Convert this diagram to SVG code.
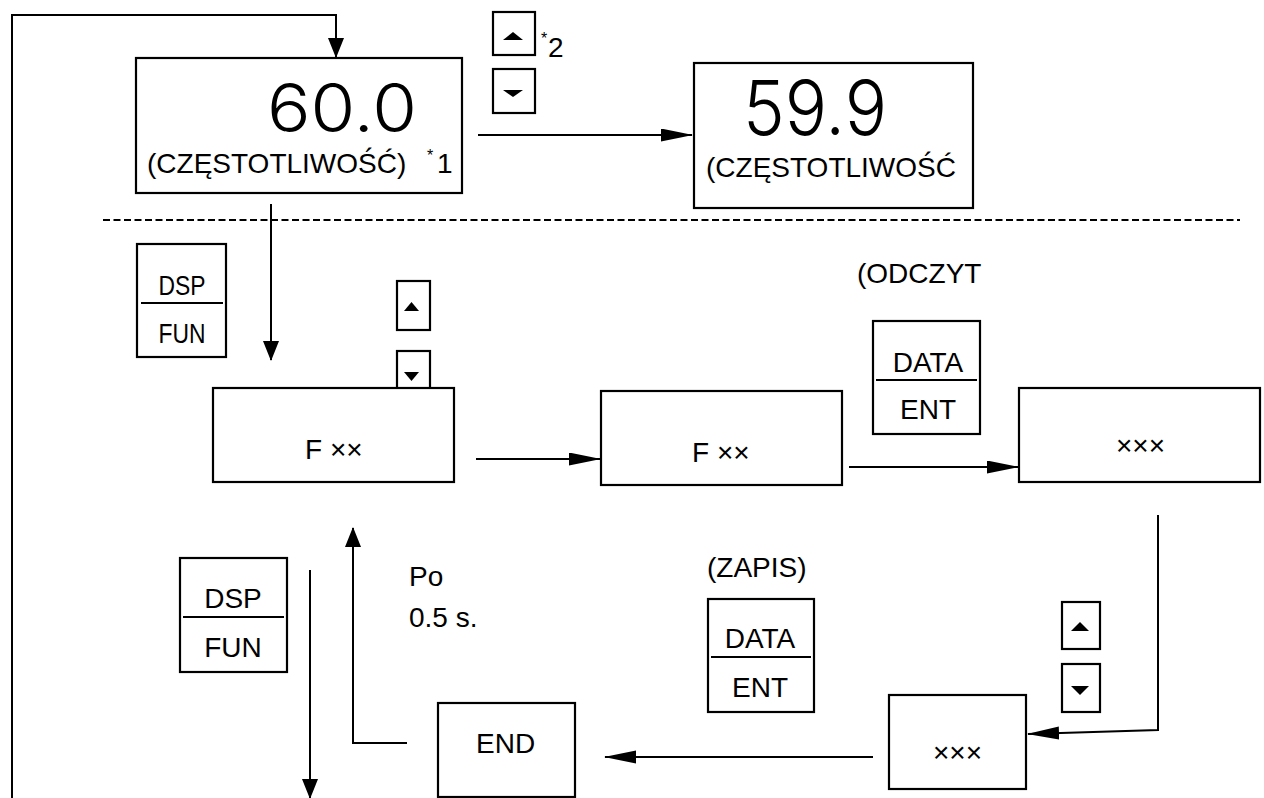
<svg xmlns="http://www.w3.org/2000/svg" width="1264" height="798" viewBox="0 0 1264 798">
<style>
.box{fill:#fff;stroke:#000;stroke-width:2.2}
.ln{fill:none;stroke:#000;stroke-width:2}
.t{font-family:"Liberation Sans",Arial,sans-serif;font-size:28px;fill:#000}
.c{text-anchor:middle}
.sup{font-family:"Liberation Sans",Arial,sans-serif;font-size:16px;fill:#000}
.lcd{font-family:Inter,"DejaVu Sans Mono",monospace;font-weight:300;fill:#000}
.tri{fill:#000}
</style>
<defs>
<marker id="ah" markerUnits="userSpaceOnUse" markerWidth="32" markerHeight="14" refX="31" refY="6.5" orient="auto">
<path d="M0,0 L32,6.5 L0,13 z" fill="#000"/>
</marker>
<marker id="av" markerUnits="userSpaceOnUse" markerWidth="20" markerHeight="17" refX="19" refY="8" orient="auto">
<path d="M0,0 L20,8 L0,16 z" fill="#000"/>
</marker>
</defs>
<rect width="1264" height="798" fill="#fff"/>

<g id="connectors">
<polyline class="ln" points="12,798 12,15 336,15 336,57" marker-end="url(#av)"/>
<line class="ln" x1="478" y1="135" x2="692" y2="135" marker-end="url(#ah)"/>
<line class="ln" x1="103" y1="220" x2="1240" y2="220" stroke-dasharray="7,3.5"/>
<line class="ln" x1="271" y1="204" x2="271" y2="360" marker-end="url(#av)"/>
<line class="ln" x1="476" y1="459" x2="600" y2="459" marker-end="url(#ah)"/>
<line class="ln" x1="849" y1="467" x2="1018" y2="467" marker-end="url(#ah)"/>
<polyline class="ln" points="1158,515 1158,730 1028,734" marker-end="url(#ah)"/>
<line class="ln" x1="873" y1="757" x2="605" y2="757" marker-end="url(#ah)"/>
<polyline class="ln" points="407,743 353,743 353,528" marker-end="url(#av)"/>
<line class="ln" x1="310" y1="570" x2="310" y2="798" marker-end="url(#av)"/>
</g>

<g id="display1">
<rect class="box" x="136" y="58" width="326" height="135"/>
<text class="lcd" x="267" y="132" font-size="67" textLength="150" lengthAdjust="spacingAndGlyphs">60.0</text>
<text class="t" x="147" y="173">(CZĘSTOTLIWOŚĆ)</text>
<text class="sup" x="427" y="161">*</text>
<text class="t" x="437" y="173">1</text>
</g>

<g id="keys-top">
<rect class="box" x="493" y="12" width="42" height="43"/>
<path class="tri" d="M503,40 L513,32 L523,40 z"/>
<rect class="box" x="493" y="69" width="42" height="44"/>
<path class="tri" d="M503,90 L513,97 L523,90 z"/>
<text class="sup" x="541" y="44">*</text>
<text class="t" x="548" y="57">2</text>
</g>

<g id="display2">
<rect class="box" x="694" y="63" width="279" height="145"/>
<text class="lcd" x="743" y="135" font-size="75" textLength="144" lengthAdjust="spacingAndGlyphs">59.9</text>
<text class="t" x="706" y="177">(CZĘSTOTLIWOŚĆ</text>
</g>

<g id="dspfun1">
<rect class="box" x="137" y="244" width="89" height="113"/>
<line class="ln" x1="141" y1="303" x2="223" y2="303"/>
<text class="t c" x="182" y="295" textLength="47" lengthAdjust="spacingAndGlyphs">DSP</text>
<text class="t c" x="182" y="343" textLength="47" lengthAdjust="spacingAndGlyphs">FUN</text>
</g>

<g id="keys-mid">
<rect class="box" x="397" y="281" width="33" height="49"/>
<path class="tri" d="M404,311 L411.5,302 L419,311 z"/>
<rect class="box" x="397" y="351" width="33" height="46"/>
<path class="tri" d="M404,372 L411.5,381 L419,372 z"/>
</g>

<g id="fxx1">
<rect class="box" x="213" y="388" width="241" height="94"/>
<text class="t" x="305" y="459">F ××</text>
</g>

<g id="fxx2">
<rect class="box" x="601" y="391" width="241" height="94"/>
<text class="t" x="692" y="462">F ××</text>
</g>

<g id="odczyt">
<text class="t" x="857" y="283">(ODCZYT</text>
</g>

<g id="dataent1">
<rect class="box" x="873" y="321" width="107" height="113"/>
<line class="ln" x1="876" y1="380" x2="977" y2="380"/>
<text class="t c" x="928" y="372">DATA</text>
<text class="t c" x="928" y="419">ENT</text>
</g>

<g id="xxx1">
<rect class="box" x="1019" y="388" width="241" height="94"/>
<text class="t" x="1116" y="455">×××</text>
</g>

<g id="dspfun2">
<rect class="box" x="180" y="558" width="107" height="114"/>
<line class="ln" x1="183" y1="617" x2="284" y2="617"/>
<text class="t c" x="233" y="608">DSP</text>
<text class="t c" x="233" y="657">FUN</text>
</g>

<g id="po">
<text class="t" x="409" y="586">Po</text>
<text class="t" x="409" y="627">0.5 s.</text>
</g>

<g id="zapis">
<text class="t" x="707" y="577">(ZAPIS)</text>
</g>

<g id="dataent2">
<rect class="box" x="708" y="599" width="106" height="113"/>
<line class="ln" x1="711" y1="657" x2="811" y2="657"/>
<text class="t c" x="760" y="648">DATA</text>
<text class="t c" x="760" y="697">ENT</text>
</g>

<g id="keys-bottom">
<rect class="box" x="1062" y="602" width="38" height="47"/>
<path class="tri" d="M1071,631 L1080,622 L1089,631 z"/>
<rect class="box" x="1062" y="664" width="38" height="48"/>
<path class="tri" d="M1071,686 L1080,695 L1089,686 z"/>
</g>

<g id="xxx2">
<rect class="box" x="889" y="695" width="137" height="94"/>
<text class="t" x="933" y="762">×××</text>
</g>

<g id="end">
<rect class="box" x="438" y="703" width="137" height="94"/>
<text class="t" x="476" y="753">END</text>
</g>
</svg>
